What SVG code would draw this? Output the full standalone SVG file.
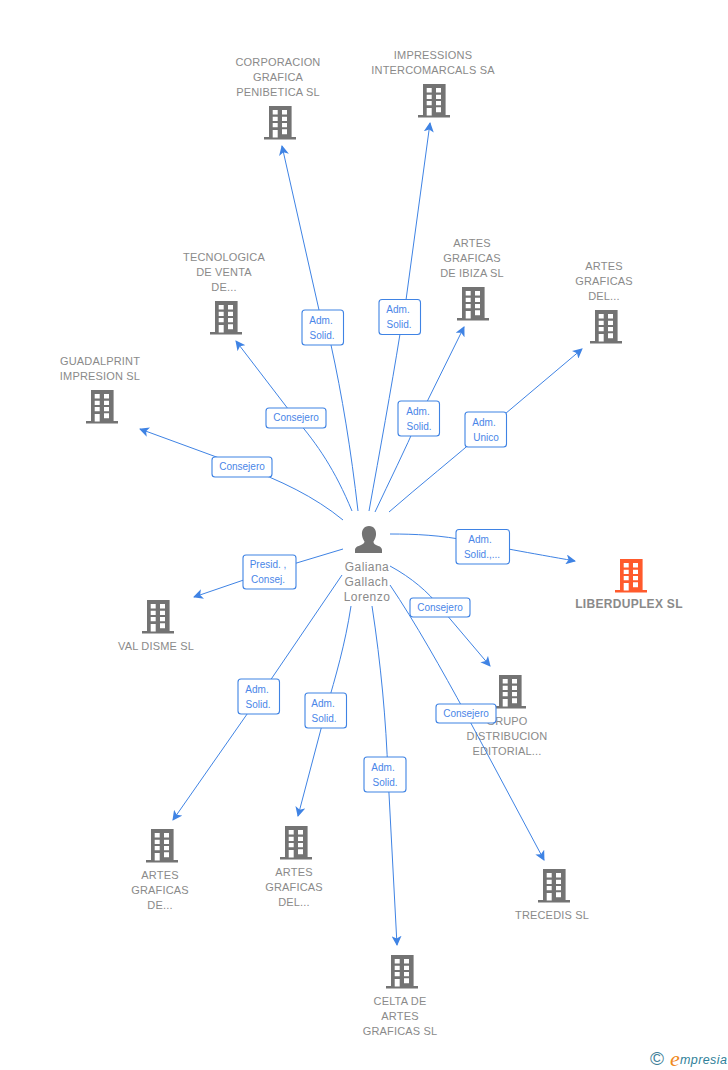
<svg xmlns="http://www.w3.org/2000/svg" width="728" height="1070" viewBox="0 0 728 1070">
<style>
text{font-family:"Liberation Sans",Arial,sans-serif}
.n{font-size:11px;fill:#8a8a8a;text-anchor:middle;letter-spacing:.17px}
.p{font-size:12px;fill:#8a8a8a;text-anchor:middle;letter-spacing:.45px}
.c{fill:none;stroke:#3f83e4;stroke-width:1;marker-end:url(#a)}
.b{fill:#fff;stroke:#3f83e4;stroke-width:1.1}
.t{font-size:10px;fill:#4a86e8;text-anchor:middle}
.g{fill:#737373}
.o{fill:#ff5a2c}
</style>
<defs>
<marker id="a" viewBox="0 0 10 10" refX="9" refY="5" markerWidth="10" markerHeight="10" markerUnits="userSpaceOnUse" orient="auto"><path d="M0 0L10 5L0 10L2.500 5Z" fill="#3f83e4"/></marker>
<symbol id="h" viewBox="0 0 32 34" width="32" height="34"><path fill-rule="evenodd" d="M5 0H27.600V31H32V33.500H0V31H5ZM8.700 4V8.500H13.700V4ZM18 4V8.500H23V4ZM8.700 10.700V15H13.700V10.700ZM18 10.700V15H23V10.700ZM8.700 17V21.300H13.700V17ZM18 17V21.300H23V17ZM8.700 24V31.500H13.700V24ZM18 23.300V28.300H23V23.300Z"/></symbol>
</defs>
<rect width="728" height="1070" fill="#fff"/>
<g id="n-corporacion"><use href="#h" x="264" y="106" class="g"/><text class="n" x="278" y="66">CORPORACION</text><text class="n" x="278" y="81">GRAFICA</text><text class="n" x="278" y="96">PENIBETICA SL</text></g>
<g id="n-impressions"><use href="#h" x="418" y="84" class="g"/><text class="n" x="433" y="59">IMPRESSIONS</text><text class="n" x="433" y="74">INTERCOMARCALS SA</text></g>
<g id="n-tecnologica"><use href="#h" x="210" y="301" class="g"/><text class="n" x="224" y="261">TECNOLOGICA</text><text class="n" x="224" y="276">DE VENTA</text><text class="n" x="224" y="291">DE...</text></g>
<g id="n-ibiza"><use href="#h" x="457" y="287" class="g"/><text class="n" x="472" y="247">ARTES</text><text class="n" x="472" y="262">GRAFICAS</text><text class="n" x="472" y="277">DE IBIZA SL</text></g>
<g id="n-artes-del-1"><use href="#h" x="590" y="310" class="g"/><text class="n" x="604" y="270">ARTES</text><text class="n" x="604" y="285">GRAFICAS</text><text class="n" x="604" y="300">DEL...</text></g>
<g id="n-guadalprint"><use href="#h" x="86" y="390" class="g"/><text class="n" x="100" y="365">GUADALPRINT</text><text class="n" x="100" y="380">IMPRESION SL</text></g>
<g id="n-valdisme"><use href="#h" x="142" y="600" class="g"/><text class="n" x="156" y="650">VAL DISME SL</text></g>
<g id="n-liberduplex"><use href="#h" x="615" y="559" class="o"/><text class="n" x="629" y="608" style="font-weight:bold;font-size:12px;letter-spacing:.3px">LIBERDUPLEX SL</text></g>
<g id="n-grupo"><use href="#h" x="494" y="675" class="g"/><text class="n" x="507" y="725">GRUPO</text><text class="n" x="507" y="740">DISTRIBUCION</text><text class="n" x="507" y="755">EDITORIAL...</text></g>
<g id="n-trecedis"><use href="#h" x="538" y="869" class="g"/><text class="n" x="552" y="919">TRECEDIS SL</text></g>
<g id="n-artes-de"><use href="#h" x="146" y="829" class="g"/><text class="n" x="160" y="879">ARTES</text><text class="n" x="160" y="894">GRAFICAS</text><text class="n" x="160" y="909">DE...</text></g>
<g id="n-artes-del-2"><use href="#h" x="280" y="826" class="g"/><text class="n" x="294" y="876">ARTES</text><text class="n" x="294" y="891">GRAFICAS</text><text class="n" x="294" y="906">DEL...</text></g>
<g id="n-celta"><use href="#h" x="386" y="955" class="g"/><text class="n" x="400" y="1005">CELTA DE</text><text class="n" x="400" y="1020">ARTES</text><text class="n" x="400" y="1035">GRAFICAS SL</text></g>
<g id="n-person"><path class="g" d="M369 526C374 526 376.500 530 376 535C375.700 538 374.500 540 373.500 541.500C373.500 543 374 544 376 545C379 546.300 382 547 382 550V553H355V550C355 547 358 546.300 361 545C363 544 364.500 543 364.500 541.500C363.500 540 362.300 538 362 535C361.500 530 364 526 369 526Z"/><text class="p" x="367" y="571">Galiana</text><text class="p" x="366.500" y="586">Gallach</text><text class="p" x="367" y="601">Lorenzo</text></g>
<g id="connectors">
<path class="c" d="M358 511C351 450 342 395 331 345L319 310L282 146"/>
<path class="c" d="M369 511C380 450 391 390 400 334L406 300L430 123"/>
<path class="c" d="M375 512C390 480 405 450 418 420L464 327"/>
<path class="c" d="M389 512C420 485 455 457 486 430L582 349"/>
<path class="c" d="M352 511C335 470 318 445 295 418L236 341"/>
<path class="c" d="M343 520C315 497 280 480 241 466L140 429"/>
<path class="c" d="M390 534C415 534 440 535 470 541C490 546 530 553 575 561"/>
<path class="c" d="M343 549L270 571L194 597"/>
<path class="c" d="M390 566C412 578 428 592 440 607L490 666"/>
<path class="c" d="M390 585C415 622 442 670 466 714L544 860"/>
<path class="c" d="M342 575L259 697L173 820"/>
<path class="c" d="M351 606C345 645 336 675 326 710L298 816"/>
<path class="c" d="M372 606C381 665 386 720 388 775L397 945"/>
<rect class="b" x="302" y="310" width="41.500" height="35" rx="3"/><text class="t" x="321" y="324">Adm.</text><text class="t" x="322" y="339">Solid.</text>
<rect class="b" x="379" y="299.500" width="41.500" height="35" rx="3"/><text class="t" x="398" y="313">Adm.</text><text class="t" x="399" y="328">Solid.</text>
<rect class="b" x="398" y="401" width="41.500" height="35" rx="3"/><text class="t" x="418" y="415">Adm.</text><text class="t" x="419" y="430">Solid.</text>
<rect class="b" x="465" y="412" width="41.500" height="35" rx="3"/><text class="t" x="484" y="426">Adm.</text><text class="t" x="486" y="441">Unico</text>
<rect class="b" x="266" y="408" width="60" height="20" rx="3"/><text class="t" x="296" y="421">Consejero</text>
<rect class="b" x="212" y="457" width="60" height="20" rx="3"/><text class="t" x="242" y="470">Consejero</text>
<rect class="b" x="456" y="529.500" width="53.500" height="34.500" rx="3"/><text class="t" x="480" y="543">Adm.</text><text class="t" x="482" y="558">Solid.,...</text>
<rect class="b" x="243" y="555" width="53" height="34" rx="3"/><text class="t" x="268" y="568">Presid. ,</text><text class="t" x="268" y="583">Consej.</text>
<rect class="b" x="410" y="598" width="60" height="19" rx="3"/><text class="t" x="440" y="611">Consejero</text>
<rect class="b" x="436" y="704" width="60" height="19" rx="3"/><text class="t" x="466" y="717">Consejero</text>
<rect class="b" x="238" y="679" width="41.500" height="35" rx="3"/><text class="t" x="257" y="693">Adm.</text><text class="t" x="258" y="708">Solid.</text>
<rect class="b" x="305" y="693" width="41.500" height="35" rx="3"/><text class="t" x="323" y="707">Adm.</text><text class="t" x="324" y="722">Solid.</text>
<rect class="b" x="364" y="757" width="42" height="35" rx="3"/><text class="t" x="383" y="771">Adm.</text><text class="t" x="385" y="786">Solid.</text>
</g>
<g id="logo"><text x="650" y="1065" style="font-size:19px;fill:#3f7f99">©</text><text x="670" y="1066" style="font-size:22px;fill:#f08a1d;font-style:italic;font-family:'Liberation Serif',serif">e</text><text x="680" y="1064" style="font-size:12.500px;fill:#2f7f99;font-style:italic;letter-spacing:.4px">mpresia</text></g>
</svg>
